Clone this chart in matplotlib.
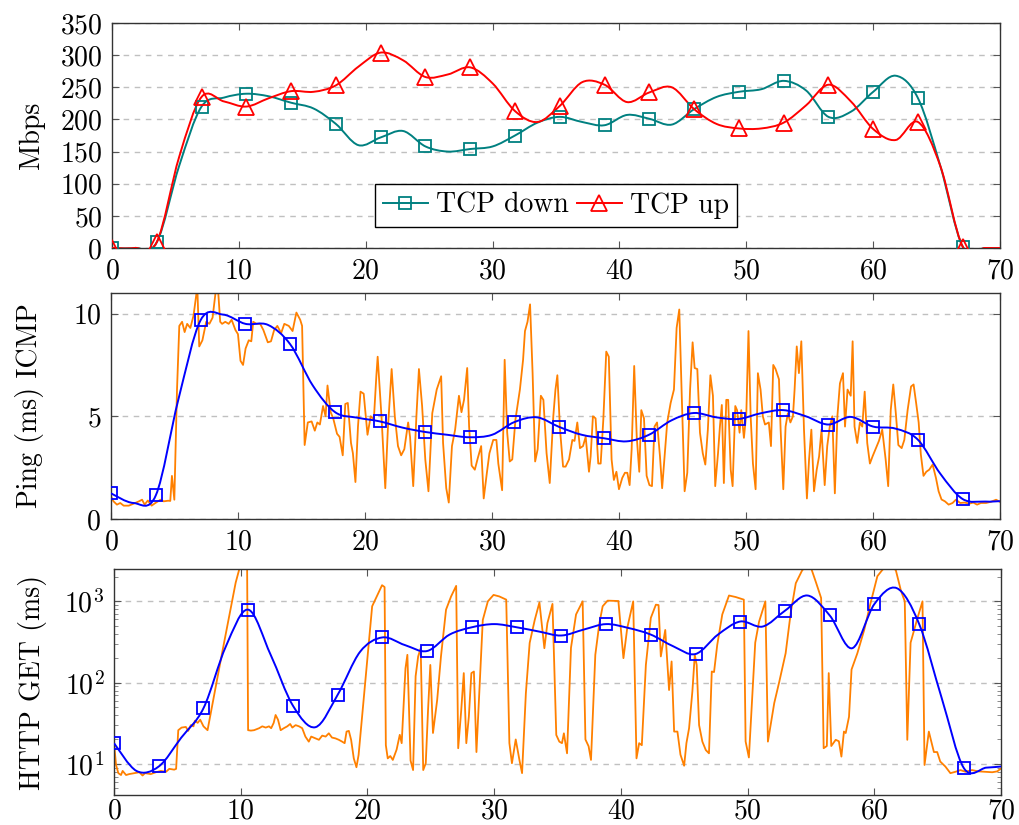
import numpy as np
import matplotlib
matplotlib.use('Agg')
import matplotlib.pyplot as plt
from matplotlib.path import Path
from matplotlib.patches import PathPatch
from matplotlib.lines import Line2D
from matplotlib.ticker import NullFormatter, LogLocator

plt.rcParams.update({
    'font.family': 'serif',
    'font.serif': ['cmr10'],
    'mathtext.fontset': 'cm',
    'axes.formatter.use_mathtext': True,
    'font.size': 20,
})

TEAL = '#008080'
RED = '#ff0000'
BLUE = '#0000ff'
ORANGE = '#ff8000'

# sample times of the smoothed series (a mark on every second one)
smooth_t = [0, 1.77, 3.53, 5.3, 7.06, 8.83, 10.59, 12.36, 14.12, 15.89, 17.65,
            19.42, 21.18, 22.95, 24.71, 26.48, 28.24, 30.01, 31.77, 33.54, 35.3,
            37.07, 38.83, 40.6, 42.36, 44.13, 45.89, 47.66, 49.42, 51.19, 52.95,
            54.72, 56.48, 58.25, 60.01, 61.78, 63.54, 65.31, 67.07, 68.84, 70.0]

tcp_down = [0, 0, 9, 128, 220, 234, 240, 236, 226, 217, 193,
            160, 172, 182, 158, 150, 154, 158, 175, 195, 204,
            196, 191, 207, 201, 192, 216, 235, 243, 247, 260,
            245, 204, 212, 243, 268, 233, 127, 2, 0, 0]

tcp_up = [0, 0, 9, 142, 235, 228, 220, 233, 244, 243, 253,
          282, 304, 292, 266, 270, 281, 256, 213, 196, 221,
          258, 254, 227, 242, 250, 216, 193, 186, 186, 195,
          222, 254, 228, 185, 168, 196, 127, 2, 0, 0]

ping_smooth = [1.25, 0.78, 1.15, 5.8, 9.68, 9.95, 9.5, 9.45, 8.5, 6.5, 5.2,
               4.93, 4.75, 4.45, 4.24, 4.1, 3.98, 4.1, 4.72, 4.95, 4.48,
               4.1, 3.93, 3.78, 4.1, 4.8, 5.16, 4.95, 4.87, 5.15, 5.3,
               5.0, 4.6, 4.97, 4.5, 4.4, 3.86, 2.2, 0.97, 0.85, 0.87]

http_smooth = [18, 8.2, 9.3, 21, 48.5, 280, 790, 220, 52, 28.3, 71,
               240, 360, 290, 245, 390, 480, 525, 480, 425, 380,
               450, 525, 470, 390, 280, 225, 390, 565, 490, 768,
               1180, 670, 265, 930, 1450, 525, 65, 8.85, 9.0, 9.3]

ping_t = [0.0, 0.2, 0.47, 0.73, 1.0, 1.4, 1.8, 2.2, 2.45, 2.65, 2.9, 3.2, 3.5, 3.9, 4.15, 4.5, 4.67, 4.8, 4.99,
          5.2, 5.38, 5.6, 5.8, 6.0, 6.25, 6.5, 6.8, 6.95, 7.2, 7.5, 7.75, 8.0, 8.27, 8.45, 8.6, 8.75, 9.0, 9.27,
          9.5, 9.8, 10.0, 10.2, 10.4, 10.6, 10.85, 11.05, 11.2, 11.45, 11.75, 12.0, 12.35, 12.6, 12.85, 13.1,
          13.4, 13.65, 14.0, 14.3, 14.6, 14.9, 15.05, 15.25, 15.5, 15.8, 16.05, 16.25, 16.45, 16.7, 16.9, 17.05,
          17.3, 17.5, 17.8, 18.0, 18.25, 18.45, 18.65, 18.9, 19.05, 19.25, 19.45, 19.65, 19.9, 20.2, 20.45, 20.7,
          20.9, 21.0, 21.3, 21.6, 21.8, 22.1, 22.35, 22.6, 22.85, 23.1, 23.4, 23.55, 23.8, 24.05, 24.25, 24.5,
          24.75, 25.0, 25.3, 25.65, 26.0, 26.15, 26.4, 26.6, 26.85, 27.1, 27.4, 27.6, 27.8, 28.05, 28.2, 28.4,
          28.65, 28.9, 29.15, 29.35, 29.6, 29.8, 30.1, 30.35, 30.5, 30.8, 31.0, 31.2, 31.4, 31.6, 31.85, 32.2,
          32.45, 32.6, 32.8, 33.0, 33.2, 33.4, 33.6, 33.85, 34.05, 34.3, 34.55, 34.83, 35.0, 35.15, 35.36, 35.6,
          35.8, 36.07, 36.33, 36.5, 36.72, 36.93, 37.17, 37.38, 37.64, 37.77, 37.95, 38.16, 38.37, 38.56, 38.77,
          39.0, 39.2, 39.42, 39.6, 39.8, 40.0, 40.26, 40.47, 40.66, 40.84, 41.0, 41.2, 41.4, 41.6, 41.76, 41.97,
          42.18, 42.4, 42.6, 42.8, 43.0, 43.23, 43.4, 43.6, 43.8, 44.07, 44.33, 44.54, 44.75, 44.93, 45.17,
          45.38, 45.6, 45.8, 45.96, 46.17, 46.38, 46.6, 46.8, 47.0, 47.2, 47.4, 47.58, 47.8, 47.95, 48.1, 48.26,
          48.45, 48.6, 48.8, 48.95, 49.16, 49.3, 49.5, 49.63, 49.84, 50.03, 50.2, 50.37, 50.55, 50.76, 50.94,
          51.15, 51.33, 51.5, 51.8, 51.97, 52.15, 52.33, 52.6, 52.73, 52.94, 53.12, 53.3, 53.5, 53.7, 53.83,
          54.0, 54.17, 54.36, 54.57, 54.8, 54.97, 55.15, 55.36, 55.57, 55.76, 55.95, 56.2, 56.4, 56.6, 56.8,
          57.0, 57.2, 57.4, 57.64, 57.8, 58.0, 58.25, 58.4, 58.55, 58.76, 58.97, 59.16, 59.35, 59.55, 59.76,
          59.97, 60.2, 60.47, 60.73, 61.0, 61.2, 61.4, 61.6, 61.8, 62.0, 62.26, 62.47, 62.73, 63.0, 63.2, 63.4,
          63.6, 63.77, 63.98, 64.2, 64.43, 64.7, 64.96, 65.17, 65.4, 65.67, 65.96, 66.27, 66.53, 66.87, 67.2,
          67.6, 67.9, 68.2, 68.5, 68.9, 69.3, 69.7, 70.0]
ping_ms = [1.1, 0.86, 0.7, 0.78, 0.65, 0.65, 0.75, 0.86, 0.94, 0.7, 0.9, 0.65, 0.78, 0.94, 0.86, 0.89, 0.88, 2.1, 0.94,
           6.3, 9.4, 9.6, 9.1, 9.5, 9.3, 9.9, 11.3, 8.4, 8.7, 9.6, 9.5, 9.8, 11.2, 11.0, 9.6, 9.5, 9.6, 9.5,
           9.7, 9.2, 9.0, 7.7, 7.5, 8.3, 8.7, 8.65, 9.6, 9.5, 9.5, 9.2, 8.6, 8.65, 9.2, 9.4,
           9.05, 9.5, 9.4, 9.15, 10.05, 9.7, 9.4, 3.6, 4.7, 4.75, 4.3, 4.7, 4.6, 5.5, 5.0, 6.5,
           5.2, 4.9, 4.15, 4.0, 3.1, 5.6, 5.65, 3.7, 3.2, 1.8, 4.5, 6.2, 6.1, 4.1, 5.0, 4.85,
           7.0, 7.9, 5.0, 1.5, 4.35, 7.3, 5.0, 3.55, 3.1, 3.4, 4.7, 4.0, 1.6, 5.0, 7.3, 5.5,
           2.9, 1.35, 5.15, 6.3, 6.95, 3.7, 1.5, 0.8, 3.55, 4.35, 6.0, 5.2, 5.8, 7.35, 4.5, 2.6,
           2.4, 3.0, 3.55, 1.0, 2.25, 3.2, 3.85, 3.85, 2.7, 1.4, 7.75, 4.2, 2.8, 2.9, 4.85, 6.3,
           7.75, 9.15, 9.6, 10.45, 7.1, 2.8, 3.4, 6.0, 5.8, 3.2, 1.75, 5.0, 6.3, 7.0, 4.35, 2.55,
           2.55, 2.9, 3.85, 3.8, 4.7, 3.45, 3.55, 4.0, 2.3, 3.05, 5.0, 4.9, 2.7, 2.7, 4.85,
           8.15, 7.9, 2.9, 1.9, 2.3, 1.45, 2.0, 2.25, 2.25, 1.65, 3.4, 7.45, 4.0, 2.3, 5.3, 4.9,
           2.1, 1.65, 1.6, 4.5, 4.7, 3.05, 1.5, 3.1, 4.7, 5.65, 6.3, 9.3, 10.2, 6.3, 1.35,
           2.25, 6.3, 8.6, 7.35, 7.3, 4.2, 3.2, 2.65, 4.35, 7.0, 6.0, 1.6, 3.2, 4.5, 5.55, 1.75,
           5.8, 5.8, 2.4, 1.6, 5.5, 5.3, 4.2, 5.3, 3.95, 5.15, 9.15, 5.0, 2.7, 1.45, 7.1,
           6.3, 5.0, 4.6, 4.7, 3.55, 7.5, 7.3, 6.8, 4.35, 1.45, 4.5, 5.15, 4.7, 5.0, 6.3,
           8.4, 7.1, 8.65, 4.35, 1.0, 2.9, 4.35, 1.35, 2.4, 3.05, 4.35, 1.65, 3.55, 4.5, 5.0,
           1.25, 5.0, 6.6, 7.1, 4.5, 6.3, 6.0, 8.65, 4.5, 3.7, 4.7, 4.5, 6.2, 3.7, 2.7,
           3.05, 3.4, 3.8, 4.35, 2.9, 1.6, 5.3, 6.55, 5.15, 3.6, 3.45, 3.85, 5.3, 6.45, 6.55, 5.65,
           4.7, 3.15, 2.1, 2.3, 2.4, 2.65, 2.0, 1.35, 0.95, 0.86, 0.7, 0.78, 0.94, 0.78, 0.8,
           0.75, 0.8, 0.7, 0.78, 0.78, 0.84, 0.94, 0.83]

http_t = [0.0, 0.16, 0.34, 0.55, 0.68, 0.95, 1.2, 1.6, 2.0, 2.25, 2.45, 2.9, 3.3, 3.7, 4.1, 4.36, 4.75, 4.9,
          5.07, 5.33, 5.67, 5.85, 6.06, 6.27, 6.38, 6.6, 6.8, 7.06, 7.38, 8.5, 9.6, 10.0, 10.5, 10.58, 10.8,
          11.05, 11.45, 11.7, 11.97, 12.23, 12.4, 12.6, 12.75, 12.94, 13.15, 13.4, 13.67, 13.9, 14.07, 14.33,
          14.6, 14.85, 15.1, 15.37, 15.56, 15.9, 16.17, 16.43, 16.7, 16.95, 17.2, 17.48, 17.74, 18.0, 18.2,
          18.35, 18.53, 18.71, 18.92, 19.13, 19.3, 20.37, 21.15, 21.35, 21.45, 21.6, 21.8, 22.0, 22.3, 22.55,
          22.7, 23.0, 23.15, 23.4, 23.6, 23.8, 24.0, 24.2, 24.4, 24.6, 24.78, 24.96, 25.17, 25.5, 25.8, 26.2,
          26.6, 27.0, 27.16, 27.4, 27.6, 27.8, 28.0, 28.2, 28.4, 28.6, 29.1, 29.5, 29.95, 30.4, 30.95, 31.2,
          31.4, 31.7, 32.0, 32.2, 32.5, 32.8, 33.2, 33.57, 33.96, 34.2, 34.6, 34.9, 35.14, 35.35, 35.5, 35.75,
          36.06, 36.46, 36.98, 37.2, 37.45, 37.64, 37.98, 38.3, 38.56, 38.95, 39.8, 40.2, 40.5, 40.97, 41.23,
          41.44, 41.65, 41.97, 42.36, 42.76, 42.97, 43.15, 43.5, 43.8, 44.0, 44.2, 44.46, 44.7, 44.99, 45.17,
          45.38, 45.64, 45.83, 45.98, 46.17, 46.43, 46.7, 46.95, 47.17, 47.35, 47.6, 48.0, 48.53, 49.06, 49.7,
          49.84, 50.1, 50.6, 50.9, 51.4, 51.6, 52.1, 52.5, 53.0, 53.4, 53.8, 54.3, 54.86, 55.4, 55.8, 56.0,
          56.25, 56.4, 56.6, 56.95, 57.2, 57.4, 57.6, 57.74, 58.0, 58.2, 58.66, 59.2, 59.7, 60.24, 60.6, 61.15,
          61.7, 62.1, 62.4, 62.6, 62.86, 63.4, 63.8, 63.96, 64.3, 64.7, 64.96, 65.2, 65.6, 66.0, 66.4, 66.8,
          67.2, 67.7, 68.2, 68.77, 69.3, 69.7, 70.0]
http_ms = [18, 9.7, 7.7, 7.3, 8.2, 7.3, 7.5, 7.7, 7.9, 7.2, 7.7, 7.5, 7.9, 8.2, 8.0, 8.7, 8.5, 8.7,
           26, 28, 28.5, 25.5, 30, 29, 34, 32, 35, 29, 26, 220, 1700, 2900, 3200, 26, 25.7,
           26, 27.5, 29, 28, 29, 27.5, 32, 40, 35, 26, 27.5, 29, 31, 28, 30,
           29, 27.5, 21.7, 18.8, 21.7, 20.6, 19.8, 22.3, 21.7, 23.8, 21.1, 20.6, 19.8, 18.8, 18,
           25, 25.5, 19.8, 11.7, 9.1, 12.9, 870, 1580, 1500, 17, 11.7, 12.5, 11.2, 15, 22.8,
           18, 150, 220, 11, 8.4, 120, 210, 265, 8.4, 10.2, 46, 165, 24, 61, 210, 790,
           1150, 1550, 15.6, 46, 131, 18, 38, 131, 137, 14, 590, 1000, 1200, 1150, 1050, 18,
           10.2, 20, 11, 7.7, 74, 308, 590, 970, 265, 540, 930, 22.7, 18.8, 18, 23.8, 13.5,
           268, 690, 1000, 20, 16.5, 11.2, 220, 535, 870, 1020, 1010, 200, 470, 1000, 11.7,
           18, 17, 165, 625, 910, 900, 210, 445, 81, 182, 25, 25, 13, 9.5, 18,
           27.5, 78, 220, 165, 30, 18.8, 14.8, 13.5, 137, 135, 290, 690, 1180, 1130, 1050,
           18.9, 12, 310, 560, 1000, 18.8, 56, 103, 230, 720, 1670, 2400, 3000, 1700, 1100, 15.6,
           16.6, 131, 16.6, 19.8, 19, 12.3, 25, 24, 38, 145, 230, 445, 950, 2040, 2400, 3000,
           2400, 1350, 1000, 19.8, 310, 620, 1000, 9.7, 25, 14, 14, 10.7, 9.3, 7.7, 8, 8.4,
           8, 8.4, 8.1, 8, 7.9, 8.1, 8.8]


def smooth_line(ax, t, v, color, log=False):
    # Catmull-Rom through the samples, handed to matplotlib as cubic Bezier segments
    x = np.asarray(t, float)
    y = np.asarray(v, float)
    if log:
        y = np.log10(y)
    n = len(x)
    verts = [(x[0], y[0])]
    codes = [Path.MOVETO]
    for i in range(n - 1):
        a = max(i - 1, 0)
        b = min(i + 2, n - 1)
        c1 = (x[i] + (x[i + 1] - x[a]) / 6, y[i] + (y[i + 1] - y[a]) / 6)
        c2 = (x[i + 1] - (x[b] - x[i]) / 6, y[i + 1] - (y[b] - y[i]) / 6)
        verts += [c1, c2, (x[i + 1], y[i + 1])]
        codes += [Path.CURVE4] * 3
    verts = np.array(verts)
    if log:
        verts[:, 1] = 10 ** verts[:, 1]
    ax.add_patch(PathPatch(Path(verts, codes), fill=False, edgecolor=color,
                           lw=1.4, zorder=3))


def marks(ax, t, v, color, marker, ms):
    ax.plot(t, v, ls='none', marker=marker, markevery=slice(0, 39, 2),
            mfc='none', mec=color, ms=ms, mew=1.3, zorder=4)


def style(ax, xpad=7):
    ax.tick_params(direction='in', top=True, right=True, length=5, width=0.8,
                   color='#555555', pad=7, labelsize=20)
    ax.tick_params(axis='x', pad=xpad)
    ax.tick_params(which='minor', direction='in', right=True, length=3,
                   width=0.6, color='#777777')
    for s in ax.spines.values():
        s.set_color('#333333')
        s.set_linewidth(1.0)
    ax.grid(axis='y', which='major', ls=(0, (4, 4)), color='#c0c0c0', lw=1.0)
    ax.set_axisbelow(True)
    ax.set_xlim(0, 70)
    ax.set_xticks(range(0, 71, 10))
    ax.yaxis.set_label_coords(-0.075, 0.5)


fig = plt.figure(figsize=(10.19, 8.25), dpi=100)

ax1 = fig.add_axes([0.1099, 0.6994, 0.8714, 0.2727])
smooth_line(ax1, smooth_t, tcp_down, TEAL)
marks(ax1, smooth_t, tcp_down, TEAL, 's', 8.5)
smooth_line(ax1, smooth_t, tcp_up, RED)
marks(ax1, smooth_t, tcp_up, RED, '^', 11)
ax1.set_ylim(0, 350)
ax1.set_yticks(range(0, 351, 50))
ax1.set_ylabel('Mbps')
style(ax1)
handles = [Line2D([], [], color=TEAL, lw=1.4, marker='s', mfc='none', mec=TEAL, ms=8.5, mew=1.3),
           Line2D([], [], color=RED, lw=1.4, marker='^', mfc='none', mec=RED, ms=11, mew=1.3)]
leg = ax1.legend(handles, ['TCP down', 'TCP up'], ncol=2, loc='lower center',
                 bbox_to_anchor=(0.5, 0.093), borderaxespad=0, fancybox=False,
                 edgecolor='black', framealpha=1, fontsize=20, handlelength=1.6,
                 handletextpad=0.3, columnspacing=0.3, borderpad=0.3)
leg.get_frame().set_linewidth(1.0)

ax2 = fig.add_axes([0.1089, 0.3709, 0.8724, 0.2739])
ax2.plot(ping_t, ping_ms, color=ORANGE, lw=1.3, zorder=2)
smooth_line(ax2, smooth_t, ping_smooth, BLUE)
marks(ax2, smooth_t, ping_smooth, BLUE, 's', 8.5)
ax2.set_ylim(0, 11)
ax2.set_yticks([0, 5, 10])
ax2.set_ylabel('Ping (ms) ICMP')
style(ax2)

ax3 = fig.add_axes([0.1119, 0.0364, 0.8705, 0.2739])
ax3.set_yscale('log')
ax3.plot(http_t, http_ms, color=ORANGE, lw=1.3, zorder=2)
smooth_line(ax3, smooth_t, http_smooth, BLUE, log=True)
marks(ax3, smooth_t, http_smooth, BLUE, 's', 8.5)
ax3.set_ylim(4.15, 2500)
ax3.yaxis.set_major_locator(LogLocator(base=10, numticks=10))
ax3.yaxis.set_minor_locator(LogLocator(base=10, subs=np.arange(2, 10), numticks=10))
ax3.yaxis.set_minor_formatter(NullFormatter())
ax3.set_ylabel('HTTP GET (ms)')
style(ax3, xpad=2.5)

fig.savefig('out.png', dpi=100)
